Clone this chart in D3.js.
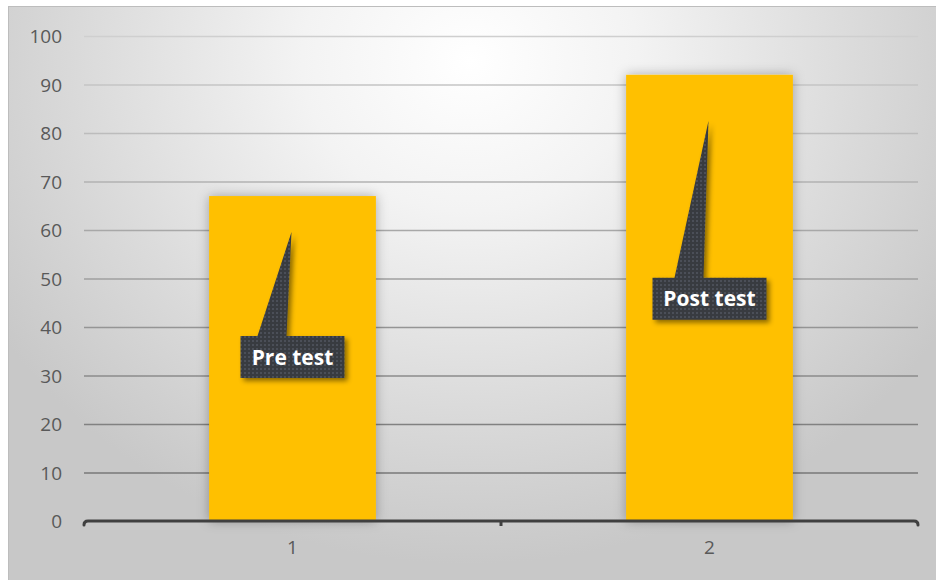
<!DOCTYPE html>
<html>
<head>
<meta charset="utf-8">
<script src="https://cdn.jsdelivr.net/npm/d3@7"></script>
<style>
  html, body { margin: 0; padding: 0; background: #ffffff; }
  svg { display: block; }
</style>
</head>
<body>
<svg id="chart" width="936" height="580"></svg>
<script>
// Test scores, before and after
const categories = ["1", "2"];
const values = [67, 92];
const calloutLabels = ["Pre test", "Post test"];
const yTicks = [0, 10, 20, 30, 40, 50, 60, 70, 80, 90, 100];

// Callout placement (pixels, measured from the top of each bar)
const calloutTipDy = [36, 46];
const calloutBoxTop = [140, 203];
const calloutBoxW = [104, 114];
const calloutBoxH = 42;

const W = 936, H = 580;
const plot = { left: 84, right: 918, top: 36, bottom: 521 };

const svg = d3.select("#chart");
const defs = svg.append("defs");

// Chart-area background: soft radial light from the upper centre
const bg = defs.append("radialGradient")
  .attr("id", "bgGrad")
  .attr("gradientUnits", "userSpaceOnUse")
  .attr("cx", 470).attr("cy", 60).attr("r", 560)
  .attr("gradientTransform", "translate(470,60) scale(1,0.9) translate(-470,-60)");
bg.append("stop").attr("offset", "0").attr("stop-color", "#ffffff");
bg.append("stop").attr("offset", "0.3").attr("stop-color", "#f3f3f3");
bg.append("stop").attr("offset", "0.7").attr("stop-color", "#dadada");
bg.append("stop").attr("offset", "1").attr("stop-color", "#c8c8c8");

// Soft glow behind bars
const barShadow = defs.append("filter").attr("id", "barShadow")
  .attr("x", "-20%").attr("y", "-20%").attr("width", "140%").attr("height", "140%");
barShadow.append("feDropShadow")
  .attr("dx", 0).attr("dy", 0).attr("stdDeviation", 6)
  .attr("flood-color", "#000").attr("flood-opacity", 0.3);

// Callout drop shadow
const coShadow = defs.append("filter").attr("id", "coShadow")
  .attr("x", "-30%").attr("y", "-30%").attr("width", "160%").attr("height", "160%");
coShadow.append("feDropShadow")
  .attr("dx", 3).attr("dy", 3).attr("stdDeviation", 2.5)
  .attr("flood-color", "#000").attr("flood-opacity", 0.45);

// Dotted dark fill for callouts
const dots = defs.append("pattern").attr("id", "dots")
  .attr("patternUnits", "userSpaceOnUse").attr("width", 4).attr("height", 4);
dots.append("rect").attr("width", 4).attr("height", 4).attr("fill", "#383b40");
dots.append("circle").attr("cx", 1).attr("cy", 1).attr("r", 0.75).attr("fill", "#66707c");

// Chart frame
svg.append("rect")
  .attr("x", 8.5).attr("y", 6.5).attr("width", W + 10).attr("height", H + 10)
  .attr("fill", "url(#bgGrad)").attr("stroke", "#bdbdbd").attr("stroke-width", 1);

// Scales
const x = d3.scaleBand()
  .domain(categories)
  .range([plot.left, plot.right])
  .paddingInner(0.6)
  .paddingOuter(0.3);

const y = d3.scaleLinear()
  .domain([0, 100])
  .range([plot.bottom, plot.top]);

// Gridline colour deepens toward the baseline
const gridColor = d3.scaleLinear().domain([100, 0]).range(["#cfcfcf", "#6e6e6e"]);

// Gridlines and y labels
const yAxis = svg.append("g")
  .attr("transform", `translate(${plot.left},0)`)
  .call(d3.axisLeft(y).tickValues(yTicks).tickSize(-(plot.right - plot.left)).tickPadding(22));
yAxis.select(".domain").remove();
yAxis.selectAll(".tick line")
  .attr("stroke", d => gridColor(d))
  .attr("stroke-width", 1.5)
  .attr("x1", 0)
  .filter(d => d === 0).remove();
yAxis.selectAll(".tick text")
  .attr("fill", "#595959")
  .attr("font-family", "'Open Sans', 'DejaVu Sans', sans-serif")
  .attr("font-size", 19)
  .attr("dy", "0.35em");

// Bars
svg.append("g")
  .selectAll("rect")
  .data(values)
  .join("rect")
  .attr("x", (d, i) => x(categories[i]))
  .attr("y", d => y(d))
  .attr("width", x.bandwidth())
  .attr("height", d => y(0) - y(d))
  .attr("fill", "#ffc000")
  .attr("filter", "url(#barShadow)");

// X axis labels
const xAxis = svg.append("g")
  .attr("transform", `translate(0,${plot.bottom})`)
  .call(d3.axisBottom(x).tickSize(0).tickPadding(20));
xAxis.select(".domain").remove();
xAxis.selectAll(".tick text")
  .attr("fill", "#595959")
  .attr("font-family", "'Open Sans', 'DejaVu Sans', sans-serif")
  .attr("font-size", 19);

// Baseline with hooked ends and a category divider tick
const y0 = y(0);
const mid = x(categories[1]) - x.step() * x.paddingInner() / 2;
svg.append("path")
  .attr("d", `M${plot.left},${y0 + 4} Q${plot.left},${y0} ${plot.left + 4},${y0} L${plot.right - 4},${y0} Q${plot.right},${y0} ${plot.right},${y0 + 4}`)
  .attr("fill", "none").attr("stroke", "#404040").attr("stroke-width", 3)
  .attr("stroke-linecap", "round");
svg.append("line")
  .attr("x1", mid).attr("x2", mid).attr("y1", y0).attr("y2", y0 + 5)
  .attr("stroke", "#404040").attr("stroke-width", 3);

// Callouts
const co = svg.append("g").selectAll("g")
  .data(values)
  .join("g");

co.append("path")
  .attr("d", (d, i) => {
    const cx = x(categories[i]) + x.bandwidth() / 2;
    const top = y(d);
    const tipY = top + calloutTipDy[i];
    const bt = top + calloutBoxTop[i];
    const bb = bt + calloutBoxH;
    const l = cx - calloutBoxW[i] / 2, r = cx + calloutBoxW[i] / 2;
    return `M${l},${bt} L${cx - 35},${bt} L${cx - 1},${tipY} L${cx - 6},${bt} L${r},${bt} L${r},${bb} L${l},${bb} Z`;
  })
  .attr("fill", "url(#dots)")
  .attr("filter", "url(#coShadow)");

co.append("text")
  .attr("x", (d, i) => x(categories[i]) + x.bandwidth() / 2)
  .attr("y", (d, i) => y(d) + calloutBoxTop[i] + calloutBoxH / 2 + 7.5)
  .attr("text-anchor", "middle")
  .attr("fill", "#ffffff")
  .attr("font-family", "'Open Sans', 'DejaVu Sans', sans-serif")
  .attr("font-weight", "bold")
  .attr("font-size", 21)
  .text((d, i) => calloutLabels[i]);
</script>
</body>
</html>
